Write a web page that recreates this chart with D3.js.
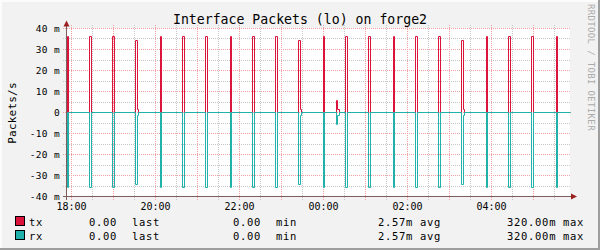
<!DOCTYPE html>
<html>
<head>
<meta charset="utf-8">
<script src="https://cdnjs.cloudflare.com/ajax/libs/d3/7.8.5/d3.min.js"></script>
<style>
body { margin: 0; background: #f2f2f2; }
svg { display: block; font-family: "DejaVu Sans Mono", monospace; }
</style>
</head>
<body>
<svg width="600" height="250"></svg>
<script>

// packets/s (rx is drawn below zero)
var spikeTimes = ["17:54:17","18:25:43","18:58:34","19:31:26","20:07:09","20:38:34",
                  "21:11:26","21:47:09","22:18:34","22:51:26","23:24:17","00:00:00",
                  "00:18:34","00:31:26","01:04:17","01:40:00","02:11:26","02:44:17",
                  "03:17:09","03:52:51","04:24:17","04:57:09","05:32:51"];
var spikeSeconds = [86,171,171,171,86,171,171,86,171,171,171,86,86,171,171,86,171,171,171,86,171,171,86];
var txPeaks = [0.0362,0.0362,0.0362,0.0343,0.0362,0.0362,0.0362,0.0362,0.0362,0.0362,0.0343,0.0362,
               0.0057,0.0362,0.0362,0.0362,0.0362,0.0362,0.0343,0.0362,0.0362,0.0362,0.0362];
var rxPeaks = [0.0357,0.0357,0.0357,0.0343,0.0357,0.0357,0.0357,0.0357,0.0357,0.0357,0.0343,0.0357,
               0.0057,0.0357,0.0357,0.0357,0.0357,0.0357,0.0343,0.0357,0.0357,0.0357,0.0357];
var tailSeconds = [0,0,0,86,0,0,0,0,0,0,86,0,171,0,0,0,0,0,86,0,0,0,0];
var txTails = [0,0,0,0.0014,0,0,0,0,0,0,0.0014,0,0.0014,0,0,0,0,0,0.0014,0,0,0,0];
var rxTails = [0,0,0,0.0014,0,0,0,0,0,0,0.0014,0,0.0014,0,0,0,0,0,0.0014,0,0,0,0];

var yTicks = [0.04,0.03,0.02,0.01,0,-0.01,-0.02,-0.03,-0.04];
var yTickLabels = ["40 m","30 m","20 m","10 m","0","-10 m","-20 m","-30 m","-40 m"];

var seriesNames = ["tx","rx"];
var seriesColors = ["#dc143c","#20b2aa"];
var lastValues = ["0.00","0.00"];
var minValues = ["0.00","0.00"];
var avgValues = ["2.57m","2.57m"];
var maxValues = ["320.00m","320.00m"];

var toDate = function(s) {
    var p = s.split(":").map(Number);
    var day = p[0] < 12 ? 2 : 1;
    return new Date(2024, 0, day, p[0], p[1], p[2]);
};

var svg = d3.select("svg");

var x = d3.scaleTime()
    .domain([new Date(2024,0,1,17,53), new Date(2024,0,2,5,53)])
    .range([66.6, 570.6]);
var y = d3.scaleLinear().domain([-0.04, 0.04]).range([196.5, 28.5]);

// snap to pixel centres, like rrdtool does
var px = function(v) { return Math.floor(v) + 0.5; };

// frame
svg.append("rect").attr("width", 600).attr("height", 250).attr("fill", "#f2f2f2");
svg.append("rect").attr("x", 0).attr("y", 0).attr("width", 600).attr("height", 2).attr("fill", "#fcfcfc");
svg.append("rect").attr("x", 0).attr("y", 0).attr("width", 2).attr("height", 250).attr("fill", "#fcfcfc");
svg.append("rect").attr("x", 0).attr("y", 248).attr("width", 600).attr("height", 2).attr("fill", "#9e9e9e");
svg.append("rect").attr("x", 598).attr("y", 0).attr("width", 2).attr("height", 250).attr("fill", "#9e9e9e");

// canvas
svg.append("rect")
    .attr("x", 67).attr("y", 28)
    .attr("width", 570 - 67).attr("height", 197 - 28)
    .attr("fill", "white");

var grid = svg.append("g").attr("shape-rendering", "crispEdges").attr("stroke-dasharray", "1,1");

var minorX = d3.timeMinute.every(30).range(x.domain()[0], x.domain()[1]);
var majorX = d3.timeHour.range(x.domain()[0], x.domain()[1]);
var minorY = d3.range(-8, 9).map(function(i) { return i * 0.005; });

grid.selectAll(".minx").data(minorX).enter().append("line")
    .attr("x1", function(d) { return px(x(d)); })
    .attr("x2", function(d) { return px(x(d)); })
    .attr("y1", 25).attr("y2", 200)
    .attr("stroke", "#c6c6c6");
grid.selectAll(".miny").data(minorY).enter().append("line")
    .attr("y1", function(d) { return px(y(d)); })
    .attr("y2", function(d) { return px(y(d)); })
    .attr("x1", 63).attr("x2", 570)
    .attr("stroke", "#c6c6c6");
grid.selectAll(".majx").data(majorX).enter().append("line")
    .attr("x1", function(d) { return px(x(d)); })
    .attr("x2", function(d) { return px(x(d)); })
    .attr("y1", 25).attr("y2", 200)
    .attr("stroke", "#f0a0a0");
grid.selectAll(".majy").data(yTicks).enter().append("line")
    .attr("y1", function(d) { return px(y(d)); })
    .attr("y2", function(d) { return px(y(d)); })
    .attr("x1", 63).attr("x2", 570)
    .attr("stroke", "#f0a0a0");

// data
var buildSeries = function(peaks, tails, sign) {
    var pts = [[x.domain()[0], 0]];
    spikeTimes.forEach(function(s, i) {
        var t = toDate(s);
        var t2 = new Date(+t + spikeSeconds[i] * 1000);
        pts.push([t, sign * peaks[i]]);
        if (tailSeconds[i] > 0) {
            pts.push([t2, sign * tails[i]]);
            pts.push([new Date(+t2 + tailSeconds[i] * 1000), 0]);
        } else {
            pts.push([t2, 0]);
        }
    });
    pts.push([x.domain()[1], 0]);
    return pts;
};

var line = d3.line()
    .x(function(d) { return px(x(d[0])); })
    .y(function(d) { return px(y(d[1])); })
    .curve(d3.curveStepAfter);

svg.append("path")
    .attr("d", line(buildSeries(txPeaks, txTails, 1)))
    .attr("fill", "none").attr("stroke", seriesColors[0]).attr("stroke-width", 1)
    .attr("stroke-linejoin", "miter");
svg.append("path")
    .attr("d", line(buildSeries(rxPeaks, rxTails, -1)))
    .attr("fill", "none").attr("stroke", seriesColors[1]).attr("stroke-width", 1)
    .attr("stroke-linejoin", "miter");

// axes
var axisColor = "#7d5e5e";
svg.append("line").attr("x1", 66.5).attr("x2", 66.5).attr("y1", 26).attr("y2", 200)
    .attr("stroke", axisColor).attr("shape-rendering", "crispEdges");
svg.append("line").attr("x1", 63).attr("x2", 572).attr("y1", 196.5).attr("y2", 196.5)
    .attr("stroke", axisColor).attr("shape-rendering", "crispEdges");
svg.append("path").attr("d", "M66.5,20.5L63.5,26.5L69.5,26.5Z").attr("fill", "#9b2020");
svg.append("path").attr("d", "M577,196.5L571,193.5L571,199.5Z").attr("fill", "#9b2020");

// tick labels
svg.append("g").selectAll("text").data(yTicks).enter().append("text")
    .attr("x", 60)
    .attr("y", function(d) { return y(d) + 3.5; })
    .attr("text-anchor", "end")
    .attr("font-size", "9.5px")
    .attr("letter-spacing", "0.35px")
    .attr("fill", "#000")
    .text(function(d, i) { return yTickLabels[i]; });

svg.append("g").selectAll("text").data(x.ticks(d3.timeHour.every(2))).enter().append("text")
    .attr("x", function(d) { return x(d); })
    .attr("y", 209.5)
    .attr("text-anchor", "middle")
    .attr("font-size", "10px")
    .attr("fill", "#000")
    .text(d3.timeFormat("%H:%M"));

// titles
svg.append("text")
    .attr("x", 300).attr("y", 24)
    .attr("text-anchor", "middle")
    .attr("font-size", "13.2px")
    .text("Interface Packets (lo) on forge2");

svg.append("text")
    .attr("transform", "translate(15.5,113) rotate(-90)")
    .attr("text-anchor", "middle")
    .attr("font-size", "11px")
    .attr("letter-spacing", "0.2px")
    .text("Packets/s");

svg.append("text")
    .attr("transform", "translate(588,4) rotate(90)")
    .attr("font-size", "9px")
    .attr("letter-spacing", "0.35px")
    .attr("fill", "#aaaaaa")
    .text("RRDTOOL / TOBI OETIKER");

// legend
var legend = svg.append("g").selectAll("g").data(seriesNames).enter().append("g")
    .attr("transform", function(d, i) { return "translate(0," + (i * 14) + ")"; });

legend.append("rect")
    .attr("x", 15.5).attr("y", 216.5).attr("width", 9).attr("height", 9)
    .attr("fill", function(d, i) { return seriesColors[i]; })
    .attr("stroke", "#000");

var legendText = function(xPos, fn) {
    legend.append("text")
        .attr("x", xPos).attr("y", 226)
        .attr("font-size", "10.5px")
        .attr("letter-spacing", "0.7px")
        .text(fn);
};
legendText(29, function(d) { return d; });
legendText(89, function(d, i) { return lastValues[i]; });
legendText(132, function() { return "last"; });
legendText(233, function(d, i) { return minValues[i]; });
legendText(276, function() { return "min"; });
legendText(378, function(d, i) { return avgValues[i]; });
legendText(420, function() { return "avg"; });
legendText(507, function(d, i) { return maxValues[i]; });
legendText(563, function() { return "max"; });

</script>
</body>
</html>
